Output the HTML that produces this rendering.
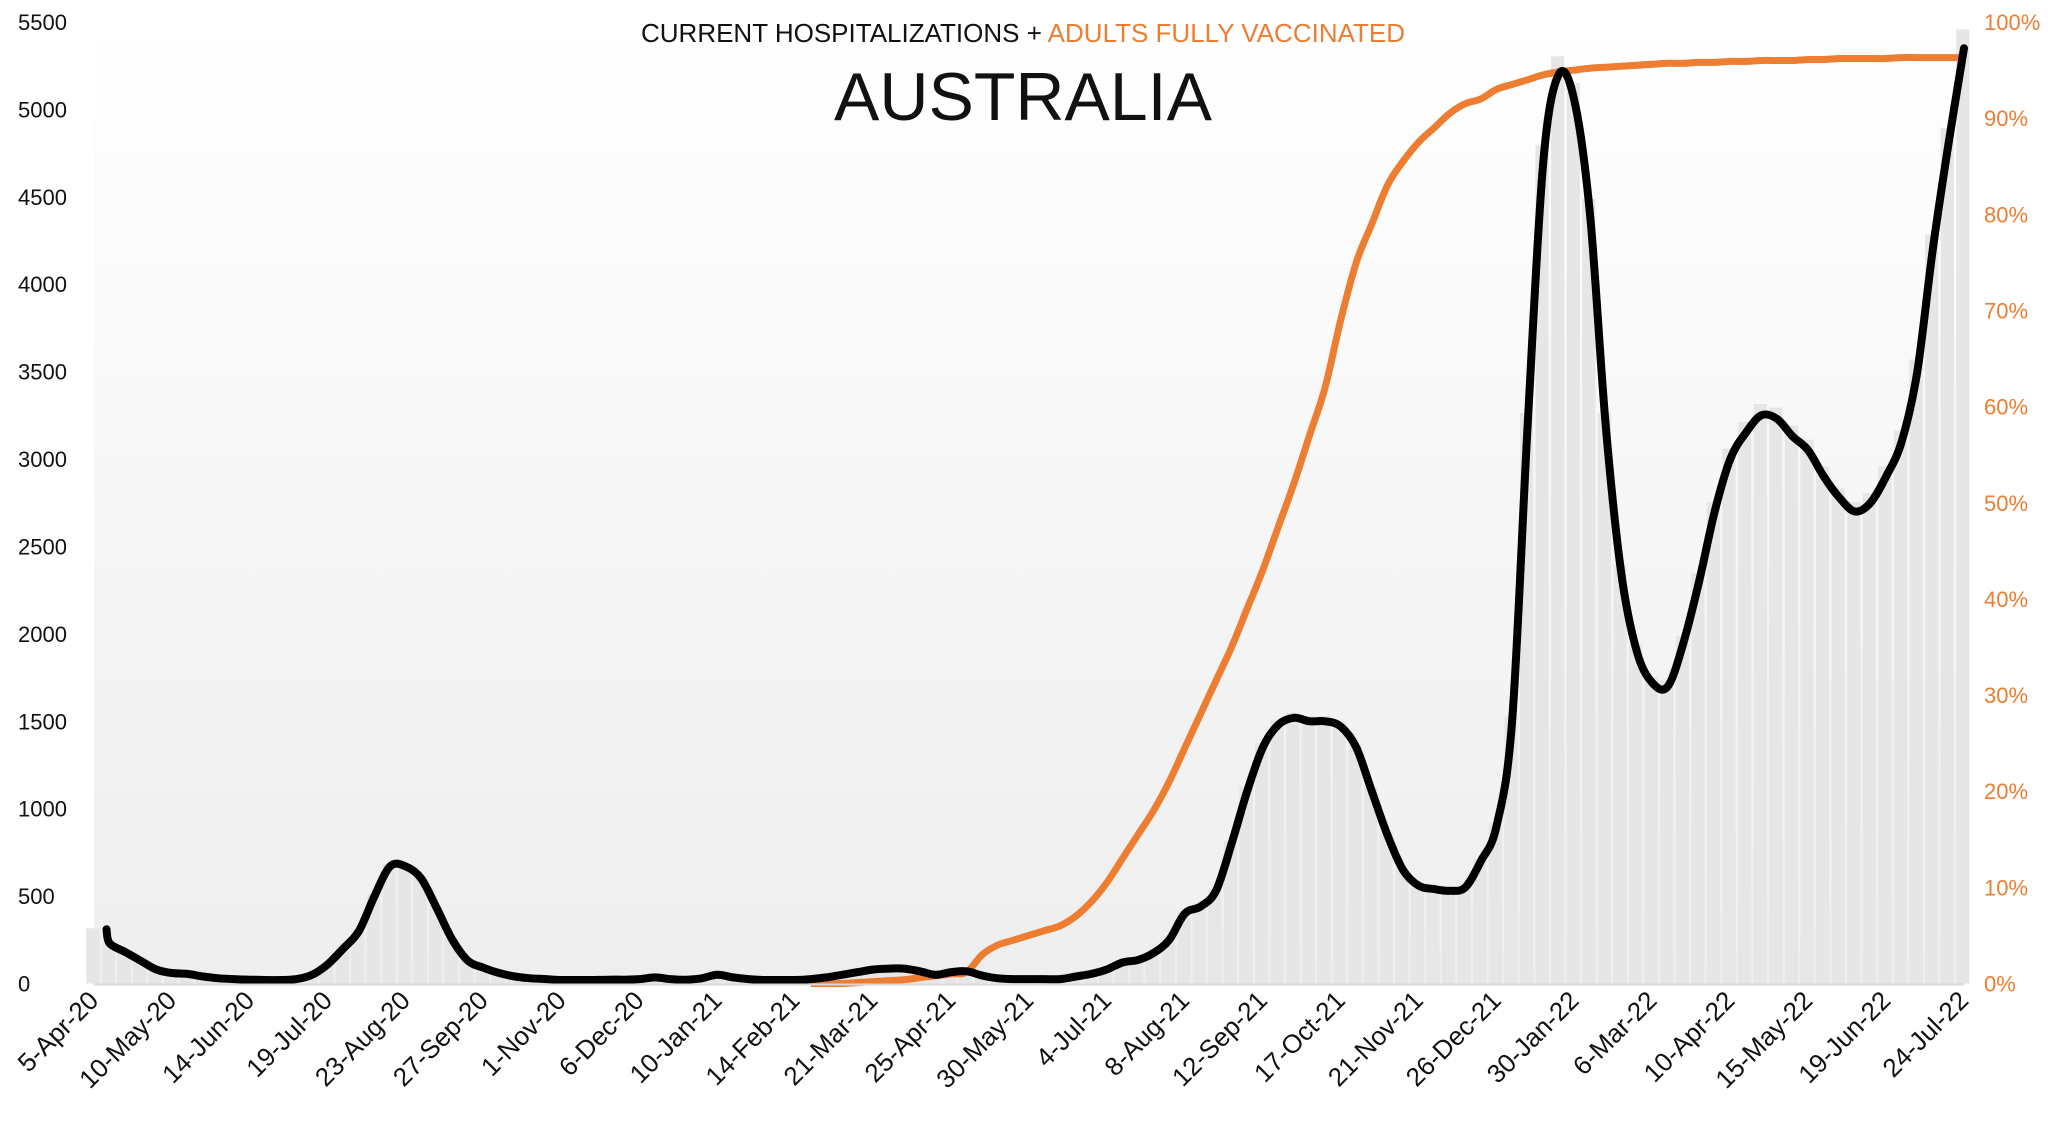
<!DOCTYPE html>
<html><head><meta charset="utf-8"><style>
html,body{margin:0;padding:0;background:#fff;}
svg{display:block;font-family:"Liberation Sans",sans-serif;}
</style></head><body>
<svg id="chart" width="2048" height="1121" viewBox="0 0 2048 1121" xmlns="http://www.w3.org/2000/svg">
<defs><linearGradient id="bg" x1="0" y1="0" x2="0" y2="1"><stop offset="0" stop-color="#ffffff"/><stop offset="1" stop-color="#eeeeee"/></linearGradient></defs>
<rect x="94" y="22" width="1872" height="962" fill="url(#bg)"/>
<g id="bars"></g>
<g id="lines"></g>
<g id="yleft"></g>
<g id="yright"></g>
<g id="xaxis"></g>
<text x="1023" y="42" text-anchor="middle" font-size="26"><tspan fill="#111">CURRENT HOSPITALIZATIONS + </tspan><tspan fill="#ed7d31">ADULTS FULLY VACCINATED</tspan></text>
<text x="1023" y="120" text-anchor="middle" font-size="68" fill="#111">AUSTRALIA</text>
</svg>
<script>
const xLabels=["5-Apr-20","10-May-20","14-Jun-20","19-Jul-20","23-Aug-20","27-Sep-20","1-Nov-20","6-Dec-20","10-Jan-21","14-Feb-21","21-Mar-21","25-Apr-21","30-May-21","4-Jul-21","8-Aug-21","12-Sep-21","17-Oct-21","21-Nov-21","26-Dec-21","30-Jan-22","6-Mar-22","10-Apr-22","15-May-22","19-Jun-22","24-Jul-22"];
const leftTicks=[0,500,1000,1500,2000,2500,3000,3500,4000,4500,5000,5500];
const rightTicks=[0,10,20,30,40,50,60,70,80,90,100];
const hospitalizations=[310,230,180,130,80,60,55,40,30,25,22,20,20,25,50,110,200,300,500,670,670,600,430,250,130,90,60,40,30,25,20,20,20,22,22,25,35,25,22,30,50,35,25,20,20,20,25,35,50,65,80,85,85,70,50,65,70,45,30,25,25,25,25,40,55,80,120,135,175,250,400,440,530,800,1100,1350,1480,1520,1500,1500,1470,1350,1100,850,650,560,540,530,550,700,900,1500,3200,4700,5200,5050,4400,3200,2350,1900,1720,1700,1950,2300,2700,3000,3150,3250,3230,3130,3050,2900,2780,2700,2750,2900,3100,3500,4200,4800,5350];
const vaccStart=46;
const vaccinated=[0,0,0,0.1,0.2,0.3,0.4,0.6,0.8,1,1.2,3,4,4.5,5,5.5,6,7,8.5,10.5,13,15.5,18,21,24.5,28,31.5,35,39,43,47.5,52,57,62,69,75,79,83,85.5,87.5,89,90.5,91.5,92,93,93.5,94,94.5,94.8,95,95.2,95.3,95.4,95.5,95.6,95.7,95.7,95.8,95.8,95.9,95.9,96,96,96,96.1,96.1,96.2,96.2,96.2,96.2,96.3,96.3,96.3,96.3,96.3];
const NS="http://www.w3.org/2000/svg";
const X0=94,X1=1964,Y0=983.5,Y1=22;
const nW=120;
const xs=i=>X0+(X1-X0)*i/nW;
const yL=v=>Y0-(Y0-Y1)*v/5500;
const yR=p=>Y0-(Y0-Y1)*p/100;
function mk(tag,attrs,parent){const e=document.createElementNS(NS,tag);for(const k in attrs)e.setAttribute(k,attrs[k]);parent.appendChild(e);return e;}
function smooth(pts){let d='M'+pts[0][0].toFixed(1)+','+pts[0][1].toFixed(1);
 for(let i=0;i<pts.length-1;i++){const p0=pts[Math.max(0,i-1)],p1=pts[i],p2=pts[i+1],p3=pts[Math.min(pts.length-1,i+2)];
  const c1=[p1[0]+(p2[0]-p0[0])/6,p1[1]+(p2[1]-p0[1])/6],c2=[p2[0]-(p3[0]-p1[0])/6,p2[1]-(p3[1]-p1[1])/6];
  d+=' C'+c1[0].toFixed(1)+','+c1[1].toFixed(1)+' '+c2[0].toFixed(1)+','+c2[1].toFixed(1)+' '+p2[0].toFixed(1)+','+p2[1].toFixed(1);}
 return d;}
const bars=document.getElementById('bars');
const bw=(X1-X0)/nW;
hospitalizations.forEach((v,i)=>{
 const r=mk('rect',{x:xs(i)-bw/2,y:yL(v*1.02),width:bw*0.85,height:Y0-yL(v*1.02),fill:'#e6e6e6'},bars);
 
 
});
const lines=document.getElementById('lines');
const vpts=vaccinated.map((p,j)=>[xs(vaccStart+j),yR(p)]);
const vl=mk('path',{d:smooth(vpts),fill:'none',stroke:'#ed7d31','stroke-width':7,'stroke-linejoin':'round'},lines);


const hpts=hospitalizations.map((v,i)=>[xs(i===0?0.8:i),yL(v)]);
const hl=mk('path',{d:smooth(hpts),fill:'none',stroke:'#000','stroke-width':8,'stroke-linejoin':'round','stroke-linecap':'round'},lines);


const yl=document.getElementById('yleft');
leftTicks.forEach(v=>{
 const t=mk('text',{x:18,y:yL(v)+8,'font-size':22,fill:'#111'},yl);t.textContent=v;
 
 
});
const yr=document.getElementById('yright');
rightTicks.forEach(p=>{
 const t=mk('text',{x:1984,y:yR(p)+8,'font-size':22,fill:'#ed7d31'},yr);t.textContent=p+'%';
 
 
});
const xa=document.getElementById('xaxis');
mk('line',{x1:X0,y1:Y0+1,x2:X1,y2:Y0+1,stroke:'#d9d9d9','stroke-width':2},xa);
xLabels.forEach((s,k)=>{
 const x=xs(k*5)+6,y=1002;
 const t=mk('text',{x:x,y:y,'font-size':26,fill:'#111','text-anchor':'end',transform:`rotate(-45 ${x} ${y})`},xa);t.textContent=s;
 
 
});
</script>
</body></html>
